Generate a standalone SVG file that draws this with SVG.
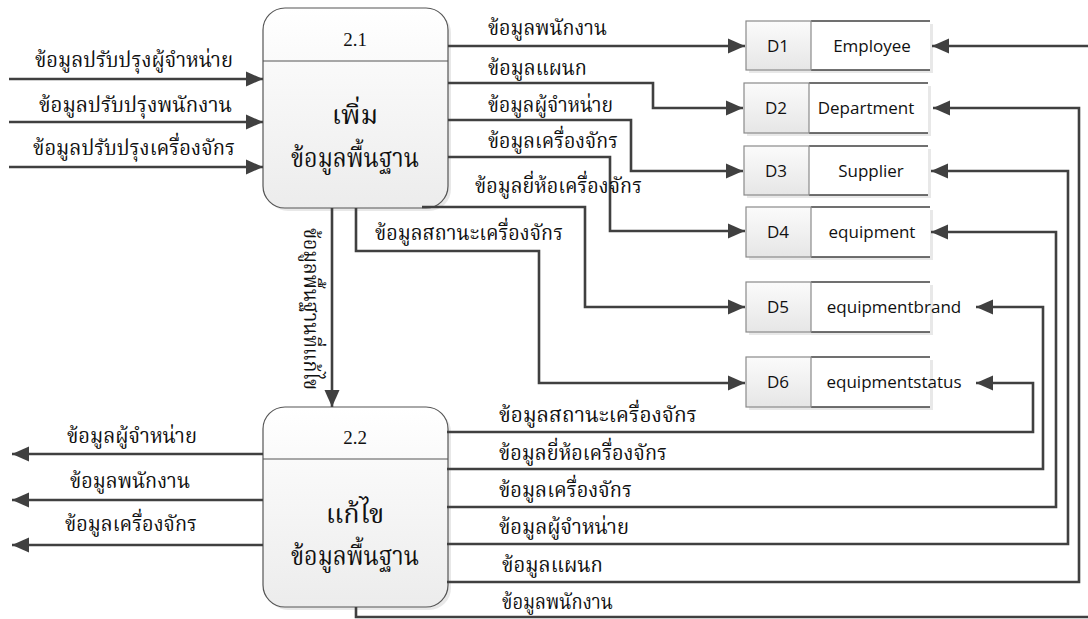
<svg xmlns="http://www.w3.org/2000/svg" width="1088" height="619" viewBox="0 0 1088 619">
<defs>
<linearGradient id="pg" x1="0" y1="0" x2="0" y2="1"><stop offset="0" stop-color="#ffffff"/><stop offset="1" stop-color="#ececec"/></linearGradient>
<linearGradient id="ig" x1="0" y1="0" x2="0" y2="1"><stop offset="0" stop-color="#fbfbfb"/><stop offset="1" stop-color="#e6e6e6"/></linearGradient>
<marker id="ah" markerUnits="userSpaceOnUse" markerWidth="18" markerHeight="16" viewBox="0 0 18 16" refX="17" refY="8" orient="auto"><path d="M0,0.5 L17,8 L0,15.5 Z" fill="#404040"/></marker>
</defs>
<style>
.ln{fill:none;stroke:#404040;stroke-width:2.6}
.th{font-family:'Noto Serif Thai','Norasi','Liberation Serif','Noto Serif',serif;font-size:21px;fill:#111}
.thb{font-family:'Noto Serif Thai','Norasi','Liberation Serif','Noto Serif',serif;font-size:27px;fill:#111;text-anchor:middle;font-weight:normal}
.num{font-family:'Liberation Serif',serif;font-size:19px;fill:#111;text-anchor:middle}
.ds{font-family:'Open Sans','Noto Sans',sans-serif;font-size:17px;fill:#111;text-anchor:middle}
.pbox{fill:url(#pg);stroke:#555;stroke-width:1.2}
.sh{fill:#d8d8d8;opacity:.6}
.idb{fill:url(#ig);stroke:#8a8a8a;stroke-width:1.2}
.nmb{fill:#ffffff}
.edge{stroke:#404040;stroke-width:1.5}
</style>
<rect width="1088" height="619" fill="#ffffff"/>

<g id="p21">
<rect class="sh" x="266" y="11" width="185" height="200" rx="22"/>
<rect class="pbox" x="263" y="8" width="185" height="200" rx="22"/>
<line x1="263" y1="61" x2="448" y2="61" stroke="#555" stroke-width="1.2"/>
<text class="num" x="355" y="46">2.1</text>
<text class="thb" x="355" y="124">เพิ่ม</text>
<text class="thb" x="355" y="167" textLength="128" lengthAdjust="spacingAndGlyphs">ข้อมูลพื้นฐาน</text>
</g>

<g id="p22">
<rect class="sh" x="266" y="410" width="185" height="200" rx="22"/>
<rect class="pbox" x="263" y="407" width="185" height="200" rx="22"/>
<line x1="263" y1="459" x2="448" y2="459" stroke="#555" stroke-width="1.2"/>
<text class="num" x="355" y="444">2.2</text>
<text class="thb" x="355" y="523">แก้ไข</text>
<text class="thb" x="355" y="565" textLength="128" lengthAdjust="spacingAndGlyphs">ข้อมูลพื้นฐาน</text>
</g>

<g id="d1">
<rect class="sh" x="749" y="24" width="184" height="49"/>
<rect class="nmb" x="811" y="21" width="119" height="49"/>
<line class="edge" x1="811" y1="21" x2="930" y2="21"/><line class="edge" x1="811" y1="70" x2="930" y2="70"/>
<rect class="idb" x="746" y="21" width="65" height="49"/>
<text class="ds" x="778" y="52">D1</text>
<text class="ds" x="872" y="52">Employee</text>
</g>
<g id="d2">
<rect class="sh" x="747" y="86" width="184" height="50"/>
<rect class="nmb" x="809" y="83" width="119" height="50"/>
<line class="edge" x1="809" y1="83" x2="928" y2="83"/><line class="edge" x1="809" y1="133" x2="928" y2="133"/>
<rect class="idb" x="744" y="83" width="65" height="50"/>
<text class="ds" x="776" y="114">D2</text>
<text class="ds" x="866" y="114">Department</text>
</g>
<g id="d3">
<rect class="sh" x="747" y="149" width="184" height="49"/>
<rect class="nmb" x="809" y="146" width="119" height="49"/>
<line class="edge" x1="809" y1="146" x2="928" y2="146"/><line class="edge" x1="809" y1="195" x2="928" y2="195"/>
<rect class="idb" x="744" y="146" width="65" height="49"/>
<text class="ds" x="776" y="177">D3</text>
<text class="ds" x="871" y="177">Supplier</text>
</g>
<g id="d4">
<rect class="sh" x="749" y="210" width="184" height="50"/>
<rect class="nmb" x="811" y="207" width="119" height="50"/>
<line class="edge" x1="811" y1="207" x2="930" y2="207"/><line class="edge" x1="811" y1="257" x2="930" y2="257"/>
<rect class="idb" x="746" y="207" width="65" height="50"/>
<text class="ds" x="778" y="238">D4</text>
<text class="ds" x="872" y="238">equipment</text>
</g>
<g id="d5">
<rect class="sh" x="749" y="285" width="184" height="50"/>
<rect class="nmb" x="811" y="282" width="119" height="50"/>
<line class="edge" x1="811" y1="282" x2="930" y2="282"/><line class="edge" x1="811" y1="332" x2="930" y2="332"/>
<rect class="idb" x="746" y="282" width="65" height="50"/>
<text class="ds" x="778" y="313">D5</text>
<text class="ds" x="894" y="313">equipmentbrand</text>
</g>
<g id="d6">
<rect class="sh" x="749" y="360" width="184" height="50"/>
<rect class="nmb" x="811" y="357" width="119" height="50"/>
<line class="edge" x1="811" y1="357" x2="930" y2="357"/><line class="edge" x1="811" y1="407" x2="930" y2="407"/>
<rect class="idb" x="746" y="357" width="65" height="50"/>
<text class="ds" x="778" y="388">D6</text>
<text class="ds" x="894" y="388">equipmentstatus</text>
</g>

<g id="connectors">
<path class="ln" marker-end="url(#ah)" d="M9,79 H263"/>
<path class="ln" marker-end="url(#ah)" d="M9,122 H263"/>
<path class="ln" marker-end="url(#ah)" d="M9,167 H263"/>
<path class="ln" marker-end="url(#ah)" d="M448,46 H745"/>
<path class="ln" marker-end="url(#ah)" d="M448,83 H653 V108 H743"/>
<path class="ln" marker-end="url(#ah)" d="M448,120 H631 V171 H743"/>
<path class="ln" marker-end="url(#ah)" d="M448,157 H610 V231 H745"/>
<path class="ln" marker-end="url(#ah)" d="M422,207 H585 V307 H745"/>
<path class="ln" marker-end="url(#ah)" d="M356,208 V251 H539 V383 H745"/>
<path class="ln" marker-end="url(#ah)" d="M332,208 V407"/>
<path class="ln" marker-end="url(#ah)" d="M263,454 H12"/>
<path class="ln" marker-end="url(#ah)" d="M263,500 H12"/>
<path class="ln" marker-end="url(#ah)" d="M263,545 H12"/>
<path class="ln" marker-end="url(#ah)" d="M447,432 H1033 V383 H976"/>
<path class="ln" marker-end="url(#ah)" d="M447,469 H1043 V307 H976"/>
<path class="ln" marker-end="url(#ah)" d="M447,507 H1056 V232 H931"/>
<path class="ln" marker-end="url(#ah)" d="M447,544 H1068 V171 H931"/>
<path class="ln" marker-end="url(#ah)" d="M447,582 H1079 V108 H933"/>
<path class="ln" marker-end="url(#ah)" d="M356,607 V617 H1096 V46 H932"/>
</g>

<g id="labels">
<text class="th" x="35" y="67" textLength="198" lengthAdjust="spacingAndGlyphs">ข้อมูลปรับปรุงผู้จำหน่าย</text>
<text class="th" x="39" y="112" textLength="193" lengthAdjust="spacingAndGlyphs">ข้อมูลปรับปรุงพนักงาน</text>
<text class="th" x="33" y="155" textLength="202" lengthAdjust="spacingAndGlyphs">ข้อมูลปรับปรุงเครื่องจักร</text>
<text class="th" x="488" y="35" textLength="119" lengthAdjust="spacingAndGlyphs">ข้อมูลพนักงาน</text>
<text class="th" x="488" y="75" textLength="99" lengthAdjust="spacingAndGlyphs">ข้อมูลแผนก</text>
<text class="th" x="488" y="112" textLength="125" lengthAdjust="spacingAndGlyphs">ข้อมูลผู้จำหน่าย</text>
<text class="th" x="488" y="148" textLength="130" lengthAdjust="spacingAndGlyphs">ข้อมูลเครื่องจักร</text>
<text class="th" x="475" y="193" textLength="167" lengthAdjust="spacingAndGlyphs">ข้อมูลยี่ห้อเครื่องจักร</text>
<text class="th" x="375" y="240" textLength="188" lengthAdjust="spacingAndGlyphs">ข้อมูลสถานะเครื่องจักร</text>
<text class="th" transform="translate(304,228) rotate(90)" textLength="162" lengthAdjust="spacingAndGlyphs">ข้อมูลพื้นฐานที่แก้ไข</text>
<text class="th" x="67" y="443" textLength="130" lengthAdjust="spacingAndGlyphs">ข้อมูลผู้จำหน่าย</text>
<text class="th" x="70" y="488" textLength="120" lengthAdjust="spacingAndGlyphs">ข้อมูลพนักงาน</text>
<text class="th" x="65" y="531" textLength="132" lengthAdjust="spacingAndGlyphs">ข้อมูลเครื่องจักร</text>
<text class="th" x="499" y="422" textLength="198" lengthAdjust="spacingAndGlyphs">ข้อมูลสถานะเครื่องจักร</text>
<text class="th" x="499" y="460" textLength="168" lengthAdjust="spacingAndGlyphs">ข้อมูลยี่ห้อเครื่องจักร</text>
<text class="th" x="499" y="497" textLength="133" lengthAdjust="spacingAndGlyphs">ข้อมูลเครื่องจักร</text>
<text class="th" x="499" y="534" textLength="130" lengthAdjust="spacingAndGlyphs">ข้อมูลผู้จำหน่าย</text>
<text class="th" x="502" y="572" textLength="101" lengthAdjust="spacingAndGlyphs">ข้อมูลแผนก</text>
<text class="th" x="502" y="609" textLength="111" lengthAdjust="spacingAndGlyphs">ข้อมูลพนักงาน</text>
</g>
</svg>
